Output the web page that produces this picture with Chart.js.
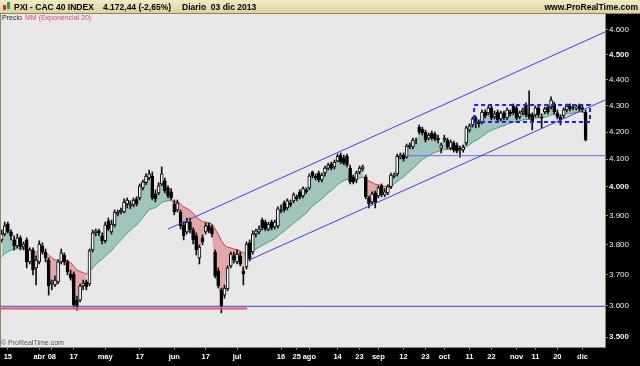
<!DOCTYPE html>
<html>
<head>
<meta charset="utf-8">
<script src="https://cdn.jsdelivr.net/npm/chart.js@4.4.0/dist/chart.umd.min.js"></script>
<style>
  html, body { margin: 0; padding: 0; background: #e8e8e8; }
  canvas { display: block; }
</style>
</head>
<body>
<canvas id="chart" width="640" height="366"></canvas>
<script>
// CAC 40 daily candles, 13 mar 2013 -> 03 dic 2013 (one entry per session)
const opens = [
  3816,3836,3870,3843,3816,3796,3823,3792,3816,3742, 3782,3722,3742,3796,3775,3748,3669,3666,3676,3742,
  3765,3742,3702,3702,3617,3617,3663,3676,3669,3782, 3840,3847,3830,3813,3881,3843,3867,3905,3912,3912,
  3940,3933,3937,3958,3961,3997,4015,4032,4039,3976, 3979,4011,4022,3997,3983,3940,3919,3912,3867,3843,
  3877,3850,3830,3755,3823,3843,3864,3857,3775,3712, 3650,3633,3653,3729,3762,3742,3762,3712,3725,3806,
  3775,3836,3843,3884,3877,3853,3877,3860,3864,3919, 3944,3926,3944,3951,3965,3983,3968,3990,3997,4054,
  4039,4050,4025,4050,4068,4083,4072,4093,4115,4104, 4111,4068,4036,4025,4054,4065,4036,3961,3947,3979,
  3968,4004,3972,3979,4001,4039,4047,4108,4115,4108, 4145,4145,4167,4219,4212,4200,4178,4197,4193,4178,
  4141,4171,4171,4141,4160,4152,4141,4134,4160,4208, 4227,4254,4238,4238,4276,4273,4292,4257,4276,4250,
  4273,4254,4276,4299,4292,4257,4276,4303,4269,4265, 4265,4292,4257,4276,4295,4295,4307,4273,4257,4261,
  4284,4299,4295,4292,4303,4292,4276
];
const highs = [
  3850,3877,3877,3850,3830,3836,3830,3809,3823,3789, 3789,3762,3813,3806,3785,3755,3682,3696,3748,3785,
  3772,3748,3715,3709,3630,3669,3682,3682,3785,3850, 3853,3853,3840,3877,3891,3884,3919,3919,3926,3958,
  3961,3951,3961,3965,4011,4025,4047,4061,4054,3990, 4015,4072,4032,4004,3994,3954,3954,3919,3877,3891,
  3891,3857,3840,3799,3833,3874,3874,3867,3782,3722, 3656,3666,3729,3775,3775,3782,3775,3725,3809,3816,
  3847,3853,3864,3891,3884,3877,3884,3884,3930,3937, 3951,3958,3954,3979,3972,3990,4001,3997,4047,4057,
  4047,4057,4050,4075,4086,4090,4097,4119,4123,4115, 4119,4079,4043,4057,4075,4079,4043,3968,3983,3986,
  4004,4011,3994,4008,4050,4050,4119,4123,4123,4156, 4160,4178,4178,4227,4219,4208,4197,4204,4200,4189,
  4160,4189,4178,4171,4167,4160,4148,4152,4223,4231, 4257,4261,4246,4284,4284,4299,4299,4280,4284,4280,
  4280,4292,4284,4307,4299,4280,4292,4311,4357,4273, 4299,4299,4269,4295,4303,4334,4314,4284,4265,4292,
  4307,4307,4303,4303,4307,4299,4284
];
const lows = [
  3809,3830,3840,3816,3782,3789,3782,3782,3722,3735, 3699,3666,3735,3768,3742,3633,3650,3660,3669,3735,
  3732,3699,3682,3595,3585,3611,3650,3650,3663,3775, 3830,3830,3802,3806,3847,3836,3860,3898,3905,3909,
  3926,3923,3930,3933,3954,3990,4008,4025,3954,3947, 3972,4004,3979,3961,3954,3902,3912,3853,3816,3836,
  3840,3802,3765,3735,3799,3836,3840,3826,3689,3656, 3576,3623,3647,3722,3738,3735,3729,3666,3718,3745,
  3768,3826,3836,3850,3847,3847,3850,3853,3857,3909, 3912,3919,3930,3944,3951,3958,3961,3976,3990,4032,
  4025,4018,4018,4039,4061,4061,4065,4090,4083,4079, 4072,4011,4011,4015,4047,4057,3958,3926,3940,3926,
  3961,3965,3965,3972,3994,4032,4039,4101,4093,4104, 4138,4138,4156,4193,4189,4163,4171,4171,4167,4160,
  4123,4163,4138,4134,4126,4123,4108,4126,4152,4200, 4219,4216,4219,4231,4254,4265,4246,4250,4238,4242,
  4246,4246,4261,4265,4246,4250,4265,4257,4250,4208, 4257,4257,4216,4269,4269,4288,4269,4250,4227,4254,
  4276,4280,4284,4284,4280,4276,4167
];
const closes = [
  3836,3864,3843,3830,3796,3823,3792,3802,3742,3782, 3715,3748,3802,3775,3755,3663,3676,3682,3742,3772,
  3742,3709,3689,3601,3598,3663,3672,3660,3779,3840, 3847,3840,3813,3867,3853,3870,3912,3912,3919,3947,
  3954,3940,3954,3940,4004,4018,4039,4047,3961,3958, 4004,4047,3986,3968,3961,3912,3944,3864,3830,3877,
  3850,3816,3782,3792,3809,3864,3847,3836,3696,3663, 3598,3656,3722,3768,3748,3768,3735,3702,3802,3751,
  3836,3847,3853,3857,3853,3870,3857,3877,3923,3916, 3919,3951,3937,3972,3958,3965,3994,3983,4039,4039,
  4032,4025,4043,4068,4079,4068,4090,4111,4090,4086, 4079,4018,4018,4050,4068,4072,3965,3940,3976,3944,
  3997,3972,3983,4001,4043,4043,4111,4115,4101,4148, 4152,4171,4167,4200,4197,4171,4189,4178,4175,4171,
  4152,4178,4145,4163,4134,4130,4134,4145,4216,4223, 4250,4235,4231,4276,4261,4292,4254,4269,4246,4273,
  4254,4284,4269,4273,4254,4273,4284,4265,4257,4242, 4292,4265,4254,4288,4276,4322,4276,4257,4246,4284,
  4299,4288,4292,4295,4288,4286,4172.44
];

const emaStart = 3751;
const emaPeriod = 20;

// x axis: session index -> label
const xTickPos  = [2, 12, 16, 23, 33, 44, 55, 65, 75, 89, 94, 98, 107, 114, 120, 128, 135, 141, 149, 156, 164, 170, 177, 185];
const xTickText = ['15','abr','08','17','may','17','jun','17','jul','16','25','ago','14','23','sep','12','23','oct','11','22','nov','11','20','dic'];
const yTicks = [3500, 3600, 3700, 3800, 3900, 4000, 4100, 4200, 4300, 4400, 4500, 4600];

// drawn objects (session index / price)
const upperChannel = [[53, 3853], [192.2, 4592]];
const lowerChannel = [[78.8, 3748], [192.2, 4322]];
const supportLine = [[-0.5, 3597], [192.2, 3597]];
const supportRed = [[-0.5, 3590], [78.2, 3590]];
const level4110 = [[128.5, 4113], [192.2, 4113]];
const rangeBox = [[150.5, 4303], [187.4, 4303], [187.4, 4238], [150.5, 4238], [150.5, 4303]];

const ema = [];
let e = emaStart;
closes.forEach(c => { e = e + (c - e) * 2 / (emaPeriod + 1); ema.push(e); });

const pts = arr => arr.map(p => ({ x: p[0], y: p[1] }));
const fmt = v => { const s = String(Math.round(v)); return s.slice(0, -3) + '.' + s.slice(-3); };

const GREEN_FILL = '#9fc6bd', RED_FILL = '#e3a7a7';
const GREEN_LINE = '#36a67e', RED_LINE = '#e0354f';
const BLUE = '#3d3df2';
const OLIVE = '#8c875c';

const objLine = (data, color, width, dash) => ({
  type: 'line', data: pts(data), borderColor: color, borderWidth: width || 1,
  borderDash: dash || [], pointRadius: 0, fill: false, order: -1, tension: 0
});

const frame = {
  id: 'frame',
  beforeDraw(chart) {
    const c = chart.ctx, a = chart.chartArea;
    c.save();
    c.fillStyle = '#e8e8e8';
    c.fillRect(0, 0, 640, 366);
    const g = c.createLinearGradient(0, 0, 0, 13);
    g.addColorStop(0, '#efecc4');
    g.addColorStop(1, '#d9d49c');
    c.fillStyle = g;
    c.fillRect(0, 0, 640, 13);
    c.fillStyle = '#000';
    c.fillRect(a.right, 13, 640 - a.right, 366 - 13);
    c.fillRect(0, a.bottom, 640, 366 - a.bottom);
    c.restore();
  },
  afterDraw(chart) {
    const c = chart.ctx, a = chart.chartArea;
    c.save();
    c.strokeStyle = OLIVE;
    c.lineWidth = 1;
    c.beginPath();
    c.moveTo(0.5, a.top); c.lineTo(0.5, a.bottom);
    c.moveTo(0, 13.5); c.lineTo(640, 13.5);
    c.stroke();
    // header
    c.fillStyle = '#d83030'; c.fillRect(3, 5, 3, 5);
    c.fillStyle = '#2aa040'; c.fillRect(7, 2, 3, 7);
    c.fillStyle = '#000';
    c.font = 'bold 8.5px "Liberation Sans", Arial, sans-serif';
    c.textBaseline = 'alphabetic';
    c.fillText('PXI - CAC 40 INDEX', 14, 10);
    c.fillText('4.172,44 (-2,65%)', 103, 10);
    c.fillText('Diario  03 dic 2013', 182, 10);
    c.textAlign = 'right';
    c.fillText('www.ProRealTime.com', 638, 10);
    c.textAlign = 'left';
    c.font = '7px "Liberation Sans", Arial, sans-serif';
    c.fillStyle = '#222';
    c.fillText('Precio', 2, 20);
    c.fillStyle = '#e04a6a';
    c.fillText('MM (Exponencial 20)', 25, 20);
    c.fillStyle = '#555';
    c.fillText('\u00a9 ProRealTime.com', 1, 345);
    c.restore();
  }
};

new Chart(document.getElementById('chart'), {
  type: 'bar',
  data: {
    datasets: [
      { // 0 wicks
        type: 'bar',
        data: closes.map((_, i) => ({ x: i, y: [lows[i], highs[i]] })),
        backgroundColor: '#111', borderWidth: 0, barThickness: 1, grouped: false, order: 1
      },
      { // 1 bodies
        type: 'bar',
        data: closes.map((c, i) => ({ x: i, y: [opens[i], c] })),
        backgroundColor: closes.map((c, i) => c >= opens[i] ? '#ffffff' : '#000000'),
        borderColor: '#000', borderWidth: 1, borderSkipped: false,
        barThickness: 3, grouped: false, order: 0
      },
      { // 2 close line, fill to the EMA
        type: 'line',
        data: closes.map((c, i) => ({ x: i, y: c })),
        borderWidth: 0, pointRadius: 0, tension: 0,
        fill: { target: 3, above: GREEN_FILL, below: RED_FILL }, order: 6
      },
      { // 3 EMA 20
        type: 'line',
        data: ema.map((v, i) => ({ x: i, y: v })),
        borderWidth: 1, pointRadius: 0, tension: 0, fill: false, order: 5,
        borderColor: GREEN_LINE,
        segment: { borderColor: s => closes[s.p1DataIndex] >= ema[s.p1DataIndex] ? GREEN_LINE : RED_LINE }
      },
      objLine(upperChannel, BLUE, 1),
      objLine(lowerChannel, BLUE, 1),
      objLine(supportLine, BLUE, 1),
      objLine(supportRed, '#f05050', 2),
      objLine(level4110, '#6a6af0', 1),
      objLine(rangeBox, '#2020f0', 2, [4, 3])
    ]
  },
  options: {
    responsive: false,
    animation: false,
    layout: { padding: { top: 13, left: 0, right: 0, bottom: 0 } },
    plugins: { legend: { display: false }, tooltip: { enabled: false } },
    scales: {
      x: {
        type: 'linear', min: -0.5, max: 192.17, position: 'bottom', offset: false,
        afterFit: s => { s.height = 19; },
        afterBuildTicks: s => { s.ticks = xTickPos.map(v => ({ value: v })); },
        grid: { drawOnChartArea: false, tickLength: 3, color: OLIVE, offset: false },
        border: { color: OLIVE },
        ticks: {
          autoSkip: false, maxRotation: 0, padding: 2, color: '#ffffff',
          font: { family: '"Liberation Sans", Arial', size: 7.5, weight: 'bold' },
          callback: (v, i) => xTickText[i]
        }
      },
      y: {
        type: 'logarithmic', position: 'right', min: 3469, max: 4670,
        afterFit: s => { s.width = 35; },
        afterBuildTicks: s => { s.ticks = yTicks.map(v => ({ value: v })); },
        grid: { drawOnChartArea: false, tickLength: 3, color: OLIVE },
        border: { color: OLIVE },
        ticks: {
          padding: 1, color: '#f0f0f0',
          font: ctx => ({ family: '"Liberation Sans", Arial', size: 8,
            weight: ctx.tick && ctx.tick.value % 500 === 0 ? 'bold' : 'normal' }),
          callback: v => fmt(v)
        }
      }
    }
  },
  plugins: [frame]
});
</script>
</body>
</html>
